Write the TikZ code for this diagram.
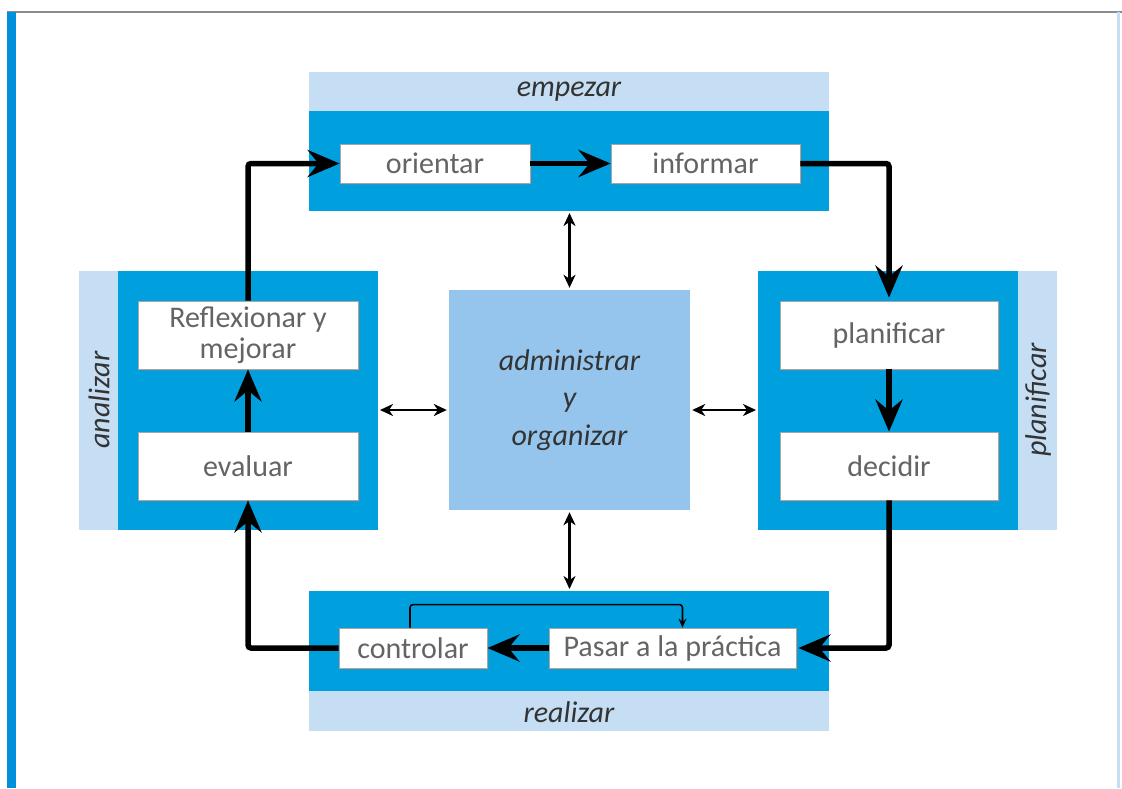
\documentclass[tikz,border=0pt]{standalone}
\usepackage{fontspec}
\setmainfont{Carlito}
\usepackage{xcolor}
\usetikzlibrary{arrows.meta,shadows}

\definecolor{fase}{RGB}{0,159,222}
\definecolor{faselight}{RGB}{198,222,243}
\definecolor{centro}{RGB}{149,197,236}
\definecolor{textogris}{RGB}{100,100,100}
\definecolor{marco}{RGB}{0,144,218}

\begin{document}
\begin{tikzpicture}[x=1pt,y=-1pt,
  paso/.style={draw=black!35,line width=0.8pt,fill=white,text=textogris,
    font=\fontsize{30}{31}\selectfont,align=center,inner sep=0pt,
    drop shadow={opacity=0.35,shadow xshift=1.5pt,shadow yshift=-1.5pt}},
  etiqueta/.style={font=\fontsize{30}{32}\selectfont\itshape,text=black!80},
  grueso/.style={line width=5.5pt,rounded corners=3pt,
    -{Stealth[length=32pt,width=27pt,inset=11pt]}},
  doble/.style={line width=2.6pt,
    {Stealth[length=13pt,width=12pt,inset=4pt]}-{Stealth[length=13pt,width=12pt,inset=4pt]}},
  fino/.style={line width=1.6pt,-{Stealth[length=9pt,width=8pt,inset=3pt]}}]
\useasboundingbox (0,0) rectangle (1122,788);

% screen frame
\fill[black!45] (7,11) rectangle (1122,13);
\fill[marco] (7,12) rectangle (16,788);
\fill[faselight] (1117,12) rectangle (1120,788);

% phase bands
\fill[faselight] (309,72) rectangle (829,111);
\fill[fase] (309,111) rectangle (829,211);
\fill[faselight] (79,271) rectangle (118,530);
\fill[fase] (118,271) rectangle (378,530);
\fill[fase] (758,271) rectangle (1018,530);
\fill[faselight] (1018,271) rectangle (1057,530);
\fill[fase] (309,591) rectangle (829,691);
\fill[faselight] (309,691) rectangle (829,731);

% phase labels
\node[etiqueta] (empezar) at (569,92) {empezar};
\node[etiqueta,rotate=90] (analizar) at (99,400) {analizar};
\node[etiqueta,rotate=90] (planif) at (1038,400) {planificar};
\node[etiqueta] (realizar) at (569,712) {realizar};

% steps
\node[paso,minimum width=190,minimum height=39] (orientar) at (435,163.5) {orientar};
\node[paso,minimum width=189,minimum height=39] (informar) at (705.5,163.5) {informar};
\node[paso,minimum width=218,minimum height=68] (planificar) at (889,335) {planificar};
\node[paso,minimum width=218,minimum height=68] (decidir) at (889,466) {decidir};
\node[paso,minimum width=247,minimum height=40] (pasar) at (672.5,648) {Pasar a la práctica};
\node[paso,minimum width=148,minimum height=40] (controlar) at (413,648) {controlar};
\node[paso,minimum width=220,minimum height=68] (evaluar) at (248,466) {evaluar};
\node[paso,minimum width=220,minimum height=68] (reflexionar) at (248,335) {Reflexionar y\\mejorar};

% centre
\node[fill=centro,minimum width=241,minimum height=220,align=center,
  font=\fontsize{30}{37.5}\selectfont\itshape,text=black!80] (admin) at (569.5,400)
  {administrar\\y\\organizar};

% cycle
\draw[grueso] (orientar) -- (informar);
\draw[grueso] (informar.east) -| ([yshift=3]planificar.north);
\draw[grueso] (planificar) -- (decidir);
\draw[grueso] (decidir.south) |- ([xshift=2]pasar.east);
\draw[grueso] (pasar) -- (controlar);
\draw[grueso] (controlar.west) -| (evaluar.south);
\draw[grueso] (evaluar) -- (reflexionar);
\draw[grueso] (reflexionar.north) |- (orientar.west);
\draw[fino,rounded corners=3pt] ([xshift=-3]controlar.north) -- ++(0,-23) -| ([xshift=10]pasar.north);

% links to centre
\draw[doble] ([yshift=2]admin.north) -- (569.5,213);
\draw[doble] ([yshift=-2]admin.south) -- (569.5,589);
\draw[doble] ([xshift=-2,yshift=-10]admin.west) -- (380,410);
\draw[doble] ([xshift=2,yshift=-10]admin.east) -- (756,410);
\end{tikzpicture}
\end{document}
